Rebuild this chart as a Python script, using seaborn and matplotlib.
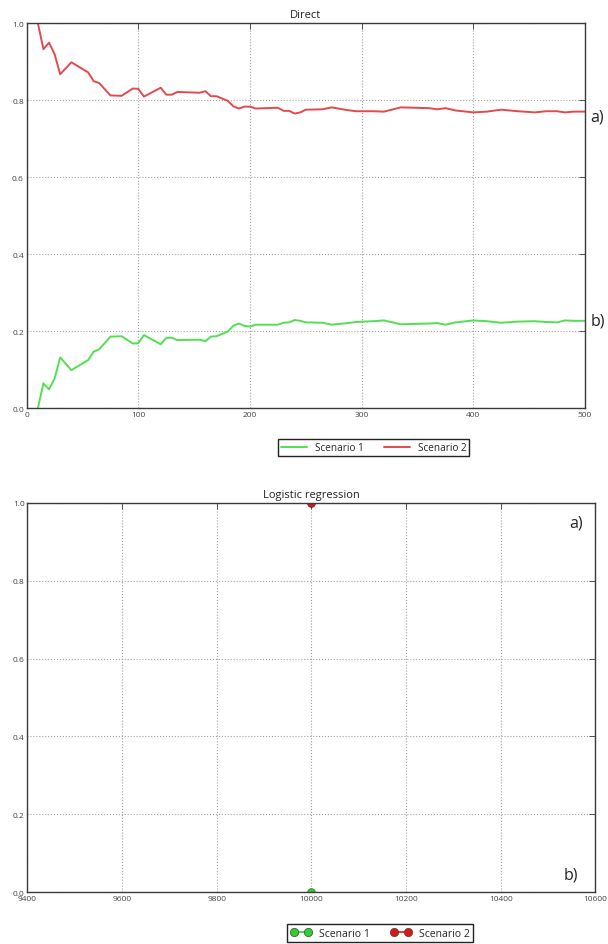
import matplotlib
matplotlib.use("Agg")
import matplotlib.pyplot as plt
import pandas as pd
import seaborn as sns
from matplotlib.lines import Line2D

# Running share of each scenario over the number of steps (direct method)
steps = [10, 15, 20, 25, 30, 40, 55, 60, 65, 75, 85, 95, 100, 105, 120, 125, 130,
         135, 155, 160, 165, 170, 180, 185, 190, 195, 200, 205, 225, 230, 235, 240,
         245, 250, 265, 273, 287, 295, 310, 320, 335, 360, 368, 375, 384, 400, 412,
         425, 440, 455, 465, 475, 482, 490, 500]
scenario1 = [0.0, 0.065, 0.049, 0.077, 0.132, 0.099, 0.125, 0.147, 0.153, 0.186,
             0.187, 0.168, 0.169, 0.190, 0.166, 0.183, 0.183, 0.177, 0.178, 0.174,
             0.186, 0.187, 0.199, 0.214, 0.220, 0.214, 0.212, 0.217, 0.217, 0.222,
             0.223, 0.229, 0.227, 0.223, 0.222, 0.217, 0.221, 0.224, 0.226, 0.228,
             0.218, 0.220, 0.221, 0.217, 0.223, 0.228, 0.226, 0.222, 0.225, 0.226,
             0.224, 0.223, 0.228, 0.227, 0.227]
scenario2 = [1.0, 0.932, 0.949, 0.919, 0.867, 0.898, 0.872, 0.849, 0.844, 0.812,
             0.811, 0.830, 0.829, 0.809, 0.832, 0.814, 0.814, 0.821, 0.819, 0.823,
             0.810, 0.810, 0.798, 0.784, 0.778, 0.783, 0.783, 0.778, 0.780, 0.772,
             0.772, 0.765, 0.768, 0.775, 0.776, 0.781, 0.774, 0.771, 0.771, 0.770,
             0.781, 0.779, 0.776, 0.779, 0.773, 0.768, 0.770, 0.775, 0.771, 0.768,
             0.771, 0.771, 0.768, 0.770, 0.770]

# Logistic regression result: a single evaluation point
logit_x = [10000]
logit_s1 = [0.0]
logit_s2 = [1.0]

series_names = ["Scenario 1", "Scenario 2"]
direct_xticks = [0, 100, 200, 300, 400, 500]
logit_xticks = [9400, 9600, 9800, 10000, 10200, 10400, 10600]
yticks = [0.0, 0.2, 0.4, 0.6, 0.8, 1.0]

line_colors = {"Scenario 1": "#52e052", "Scenario 2": "#e24a4e"}
marker_colors = {"Scenario 1": "#2fcf2f", "Scenario 2": "#d81818"}

sns.set_theme(style="white")
plt.rcParams["font.family"] = ["Open Sans", "DejaVu Sans"]


def style_axes(ax, xticks, xlim):
    ax.set_xlim(*xlim)
    ax.set_ylim(0.0, 1.0)
    ax.set_xticks(xticks)
    ax.set_xticklabels([str(t) for t in xticks])
    ax.set_yticks(yticks)
    ax.set_yticklabels([f"{t:.1f}" for t in yticks])
    ax.set_xlabel("")
    ax.set_ylabel("")
    for sp in ax.spines.values():
        sp.set_visible(True)
        sp.set_color("#3a3a3a")
        sp.set_linewidth(1.0)
    ax.tick_params(direction="in", top=True, right=True, length=4, width=0.6,
                   color="#3a3a3a", labelsize=6, labelcolor="#444444", pad=2)
    ax.grid(True, linestyle=":", color="#a0a0a0", linewidth=0.8)
    ax.set_axisbelow(True)


fig = plt.figure(figsize=(6.08, 9.45), dpi=100)
ax1 = fig.add_axes([0.0439, 0.5669, 0.9183, 0.4077])
ax2 = fig.add_axes([0.0452, 0.0547, 0.9342, 0.4123])

# --- Direct ---
direct = pd.DataFrame({
    "step": steps * 2,
    "share": scenario1 + scenario2,
    "scenario": [series_names[0]] * len(steps) + [series_names[1]] * len(steps),
})
sns.lineplot(data=direct, x="step", y="share", hue="scenario", palette=line_colors,
             estimator=None, sort=False, linewidth=1.4, legend=False, ax=ax1)
style_axes(ax1, direct_xticks, (0, 500))
ax1.set_title("Direct", fontsize=8, color="#222222", pad=4)
ax1.text(505, scenario2[-1] - 0.012, "a)", fontsize=11.5, color="#222222",
         ha="left", va="center", clip_on=False)
ax1.text(505, scenario1[-1], "b)", fontsize=11.5, color="#222222",
         ha="left", va="center", clip_on=False)

handles1 = [Line2D([], [], color=line_colors[n], linewidth=1.4) for n in series_names]
fig.legend(handles1, series_names, loc="center", bbox_to_anchor=(0.6146, 0.5249),
           ncol=2, fontsize=7.2, frameon=True, fancybox=False, edgecolor="#222222",
           framealpha=1, borderpad=0.3, handlelength=2.6, columnspacing=2.0,
           handletextpad=0.8).get_frame().set_linewidth(1.0)

# --- Logistic regression ---
logit = pd.DataFrame({
    "n": logit_x * 2,
    "share": logit_s1 + logit_s2,
    "scenario": [series_names[0]] * len(logit_x) + [series_names[1]] * len(logit_x),
})
for name in series_names:
    sub = logit[logit["scenario"] == name]
    sns.lineplot(data=sub, x="n", y="share", color=marker_colors[name], marker="o",
                 markersize=5.5, markeredgecolor="#7a1010" if name == series_names[1] else "#1a8a1a",
                 markeredgewidth=0.6, estimator=None, legend=False, ax=ax2)
style_axes(ax2, logit_xticks, (9400, 10600))
ax2.set_title("Logistic regression", fontsize=8, color="#222222", pad=4)
ax2.text(0.978, 0.95, "a)", transform=ax2.transAxes, fontsize=11.5, color="#222222",
         ha="right", va="center")
ax2.text(0.969, 0.045, "b)", transform=ax2.transAxes, fontsize=11.5, color="#222222",
         ha="right", va="center")

handles2 = [Line2D([], [], color=marker_colors[n], linewidth=1.2, marker="o",
                   markersize=6, markeredgecolor="#444444", markeredgewidth=0.5)
            for n in series_names]
fig.legend(handles2, series_names, loc="center", bbox_to_anchor=(0.625, 0.0116),
           ncol=2, fontsize=7.5, numpoints=2, frameon=True, fancybox=False,
           edgecolor="#222222", framealpha=1, borderpad=0.3, handlelength=2.0,
           columnspacing=2.0, handletextpad=0.7).get_frame().set_linewidth(1.0)

fig.savefig("out.png", dpi=100)
